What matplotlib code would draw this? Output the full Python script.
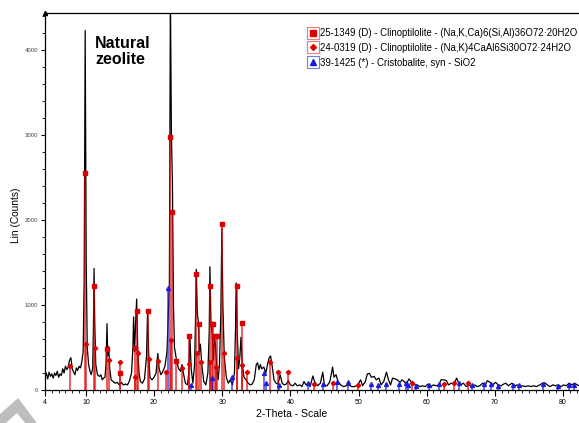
import matplotlib
matplotlib.use("Agg")
import matplotlib.pyplot as plt
from matplotlib.lines import Line2D
from matplotlib.patches import Polygon

plt.rcParams['font.family'] = ['Liberation Sans', 'DejaVu Sans']

two_theta = [4.0, 4.2, 4.4, 4.6, 4.8, 5.0, 5.2, 5.4, 5.6, 5.8, 6.0, 6.2, 6.4, 6.6, 6.8, 7.0, 7.2, 7.4, 7.6, 7.8,
             8.0, 8.2, 8.4, 8.6, 8.8, 9.0, 9.2, 9.4, 9.6, 9.75, 9.9, 10.05, 10.2, 10.4, 10.6, 10.8, 11.0, 11.1, 11.2, 11.3,
             11.45, 11.7, 12.0, 12.2, 12.4, 12.6, 12.8, 12.95, 13.1, 13.2, 13.35, 13.5, 13.7, 14.0, 14.3, 14.6, 14.9, 15.2, 15.5, 15.8,
             16.1, 16.4, 16.7, 16.9, 17.0, 17.15, 17.3, 17.45, 17.6, 17.8, 18.0, 18.3, 18.6, 18.9, 19.05, 19.2, 19.4, 19.7, 20.0, 20.3,
             20.55, 20.75, 21.0, 21.3, 21.6, 21.9, 22.1, 22.25, 22.4, 22.55, 22.7, 22.85, 23.0, 23.3, 23.6, 23.9, 24.1, 24.3, 24.6, 24.9,
             25.1, 25.25, 25.45, 25.7, 25.95, 26.1, 26.2, 26.35, 26.5, 26.65, 26.8, 27.0, 27.3, 27.6, 27.9, 28.1, 28.2, 28.35, 28.55, 28.7,
             28.85, 29.0, 29.2, 29.4, 29.6, 29.8, 29.95, 30.1, 30.3, 30.6, 30.9, 31.2, 31.5, 31.8, 31.95, 32.05, 32.2, 32.4, 32.6, 32.75,
             32.95, 33.2, 33.5, 33.8, 34.1, 34.4, 34.7, 35.0, 35.2, 35.4, 35.6, 35.8, 36.1, 36.4, 36.7, 36.9, 37.1, 37.3, 37.6, 37.9,
             38.2, 38.5, 38.8, 39.1, 39.4, 39.7, 40.0, 40.4, 40.7, 41.0, 41.4, 41.7, 42.0, 42.3, 42.6, 42.9, 43.3, 43.6, 44.0, 44.4,
             44.75, 45.0, 45.4, 45.8, 46.2, 46.4, 46.7, 47.0, 47.4, 47.8, 48.2, 48.6, 49.0, 49.4, 49.9, 50.3, 50.6, 51.0, 51.3, 51.6,
             51.9, 52.3, 52.6, 53.0, 53.3, 53.7, 54.1, 54.4, 54.7, 55.0, 55.4, 55.7, 56.1, 56.4, 56.7, 57.0, 57.4, 57.7, 58.1, 58.6,
             59.0, 59.4, 59.8, 60.2, 60.6, 61.0, 61.4, 61.8, 62.1, 62.5, 62.9, 63.2, 63.6, 64.0, 64.4, 64.7, 65.0, 65.4, 65.8, 66.2,
             66.6, 67.0, 67.4, 67.8, 68.2, 68.6, 68.9, 69.3, 69.7, 70.1, 70.5, 70.9, 71.3, 71.6, 72.0, 72.5, 72.9, 73.3, 73.7, 74.1,
             74.5, 74.9, 75.3, 75.7, 76.1, 76.6, 77.0, 77.3, 77.7, 78.1, 78.5, 78.9, 79.3, 79.7, 80.1, 80.5, 80.9, 81.3, 81.7, 82.1, 82.4]
counts = [150, 200, 130, 210, 160, 190, 140, 200, 170, 220, 150, 190, 170, 250, 200, 280, 240, 270, 350, 380,
          250, 210, 180, 260, 230, 280, 260, 330, 450, 1300, 4230, 1500, 500, 300, 220, 180, 260, 700, 1430, 800,
          300, 180, 160, 180, 120, 140, 150, 300, 780, 400, 510, 250, 120, 100, 80, 90, 60, 90, 60, 70,
          60, 110, 200, 500, 860, 450, 800, 1070, 500, 200, 100, 80, 130, 400, 940, 450, 150, 120, 150, 200,
          430, 250, 180, 220, 280, 450, 900, 1250, 4700, 3000, 2420, 1000, 500, 350, 250, 220, 300, 200, 80, 60,
          200, 640, 250, 80, 300, 900, 1420, 900, 800, 450, 540, 300, 100, 60, 200, 700, 1450, 800, 650, 350,
          600, 550, 250, 120, 300, 900, 1900, 1000, 400, 150, 80, 120, 60, 200, 700, 1260, 700, 250, 400, 620,
          300, 150, 120, 80, 60, 70, 120, 300, 320, 240, 300, 250, 270, 200, 320, 380, 400, 300, 120, 80,
          70, 180, 80, 60, 70, 110, 60, 50, 80, 50, 60, 40, 100, 60, 80, 40, 165, 90, 50, 80,
          210, 60, 50, 100, 270, 150, 180, 100, 60, 40, 50, 60, 40, 40, 60, 120, 50, 100, 190, 195,
          150, 160, 120, 140, 60, 100, 210, 120, 60, 140, 130, 120, 90, 120, 100, 70, 130, 100, 60, 60,
          40, 50, 40, 70, 40, 60, 50, 60, 120, 120, 110, 60, 80, 70, 140, 80, 60, 80, 40, 60,
          40, 60, 40, 50, 80, 60, 110, 90, 60, 90, 60, 50, 70, 80, 50, 80, 50, 60, 40, 50,
          40, 50, 40, 50, 40, 60, 80, 85, 60, 40, 60, 50, 60, 40, 60, 50, 80, 60, 80, 60, 50]

# reference patterns (stick positions and heights)
clino_a_pos = [9.9, 11.2, 13.15, 15.05, 17.15, 17.5, 19.1, 22.4, 22.7, 23.2, 25.2, 26.2, 26.6, 28.2, 28.5, 28.7,
               29.0, 29.2, 30.0, 32.1, 32.85]
clino_a_int = [2550, 1220, 480, 195, 490, 925, 925, 2980, 2100, 340, 635, 1360, 780, 1220, 780, 780,
               630, 630, 1950, 1220, 785]
clino_b_pos = [7.7, 9.95, 11.3, 13.4, 15.05, 17.2, 17.6, 19.2, 20.55, 21.75, 22.55, 24.05, 25.2, 26.3, 26.9, 28.25,
               29.1, 30.25, 32.1, 32.95, 33.6, 37.0, 38.2, 39.7, 43.5, 46.2, 49.9, 57.9, 62.6, 64.0, 66.0]
clino_b_int = [280, 545, 490, 350, 325, 155, 430, 370, 340, 207, 590, 260, 310, 430, 325, 325,
               270, 430, 380, 290, 210, 330, 210, 210, 70, 80, 60, 80, 70, 85, 80]
cristo_pos = [22.0, 25.45, 28.45, 31.4, 36.2, 36.4, 38.3, 42.6, 44.8, 46.9, 48.5, 51.8, 52.8, 54.0, 56.0, 56.9,
              57.2, 58.4, 60.4, 61.8, 64.8, 66.7, 68.4, 69.4, 70.4, 72.6, 73.5, 77.0, 79.2, 80.9, 81.6]
cristo_int = [1200, 60, 140, 155, 204, 86, 55, 80, 70, 90, 100, 70, 60, 70, 70, 80,
              60, 50, 60, 70, 80, 60, 70, 70, 50, 60, 60, 70, 50, 60, 60]

labels = ['25-1349 (D) - Clinoptilolite - (Na,K,Ca)6(Si,Al)36O72\u00b720H2O',
          '24-0319 (D) - Clinoptilolite - (Na,K)4CaAl6Si30O72\u00b724H2O',
          '39-1425 (*) - Cristobalite, syn - SiO2']
x_ticks = [4, 10, 20, 30, 40, 50, 60, 70, 80]
y_ticks = [0, 1000, 2000, 3000, 4000]

red = '#dd0000'
blue = '#1a1ae0'

fig = plt.figure(figsize=(5.79, 4.23), dpi=100)
ax = fig.add_axes([0.0777, 0.078, 0.9223, 0.891])

ax.plot(two_theta, counts, color='black', lw=0.9, zorder=2)

ax.vlines(clino_a_pos, 0, clino_a_int, color=red, lw=1.1, alpha=0.8, zorder=3)
ax.vlines(clino_b_pos, 0, clino_b_int, color=red, lw=1.1, alpha=0.8, zorder=3)
ax.vlines(cristo_pos, 0, cristo_int, color=blue, lw=1.1, alpha=0.8, zorder=3)
ax.plot(clino_a_pos, clino_a_int, 's', color=red, ms=3, zorder=4)
ax.plot(clino_b_pos, clino_b_int, 'D', color=red, ms=2.2, zorder=4)
ax.plot(cristo_pos, cristo_int, '^', color=blue, ms=2.8, zorder=4)

ax.set_xlim(4, 82.35)
ax.set_ylim(0, 4435)
ax.set_xticks(x_ticks)
ax.set_xticks(range(4, 83), minor=True)
ax.set_yticks(y_ticks)
ax.set_yticks(range(0, 4401, 200), minor=True)
ax.tick_params(axis='x', which='major', length=4, width=0.8, labelsize=5, pad=2.5)
ax.tick_params(axis='x', which='minor', length=2.5, width=0.6)
ax.tick_params(axis='y', which='major', length=3, width=0.8, labelsize=4.3, pad=2, labelcolor='#444444')
ax.tick_params(axis='y', which='minor', length=2, width=0.6)
ax.spines['right'].set_visible(False)
for s in ['left', 'top', 'bottom']:
    ax.spines[s].set_linewidth(0.9)
ax.plot(0, 1, '^', color='black', ms=3, transform=ax.transAxes, clip_on=False)

ax.set_ylabel('Lin (Counts)', fontsize=7.3)
ax.yaxis.set_label_coords(-0.045, 0.464)
ax.set_xlabel('2-Theta - Scale', fontsize=7.5)
ax.xaxis.set_label_coords(0.4625, -0.051)

ax.text(95 / 579, 1 - 36 / 423, 'Natural\nzeolite', transform=fig.transFigure, fontsize=11.5,
        fontweight='bold', va='top', ha='left', linespacing=1.05)

h1 = (Line2D([], [], marker='s', ms=8, mfc='white', mec='#ee7777', mew=0.8, ls='none'),
      Line2D([], [], marker='s', ms=5, color=red, ls='none'))
h2 = (Line2D([], [], marker='s', ms=8, mfc='white', mec='#ee7777', mew=0.8, ls='none'),
      Line2D([], [], marker='D', ms=3, color=red, ls='none'))
h3 = (Line2D([], [], marker='s', ms=8, mfc='white', mec='#7777ee', mew=0.8, ls='none'),
      Line2D([], [], marker='^', ms=5, color=blue, ls='none'))
ax.legend([h1, h2, h3], labels, loc='upper left', bbox_to_anchor=(309 / 579, 1 - 28 / 423),
          bbox_transform=fig.transFigure, frameon=False, fontsize=6.9, handlelength=0.85,
          handletextpad=0.25, labelspacing=0.5, borderpad=0, borderaxespad=0)

# grey watermark arrow in the lower left corner
fig.patches.append(Polygon([(0, 8 / 423), (18 / 579, 24 / 423), (36 / 579, 0), (26 / 579, 0),
                            (17 / 579, 11 / 423), (5 / 579, 0), (0, 0)],
                           closed=True, transform=fig.transFigure, color='#bdbdbd', zorder=0))

fig.savefig('out.png', dpi=100)
